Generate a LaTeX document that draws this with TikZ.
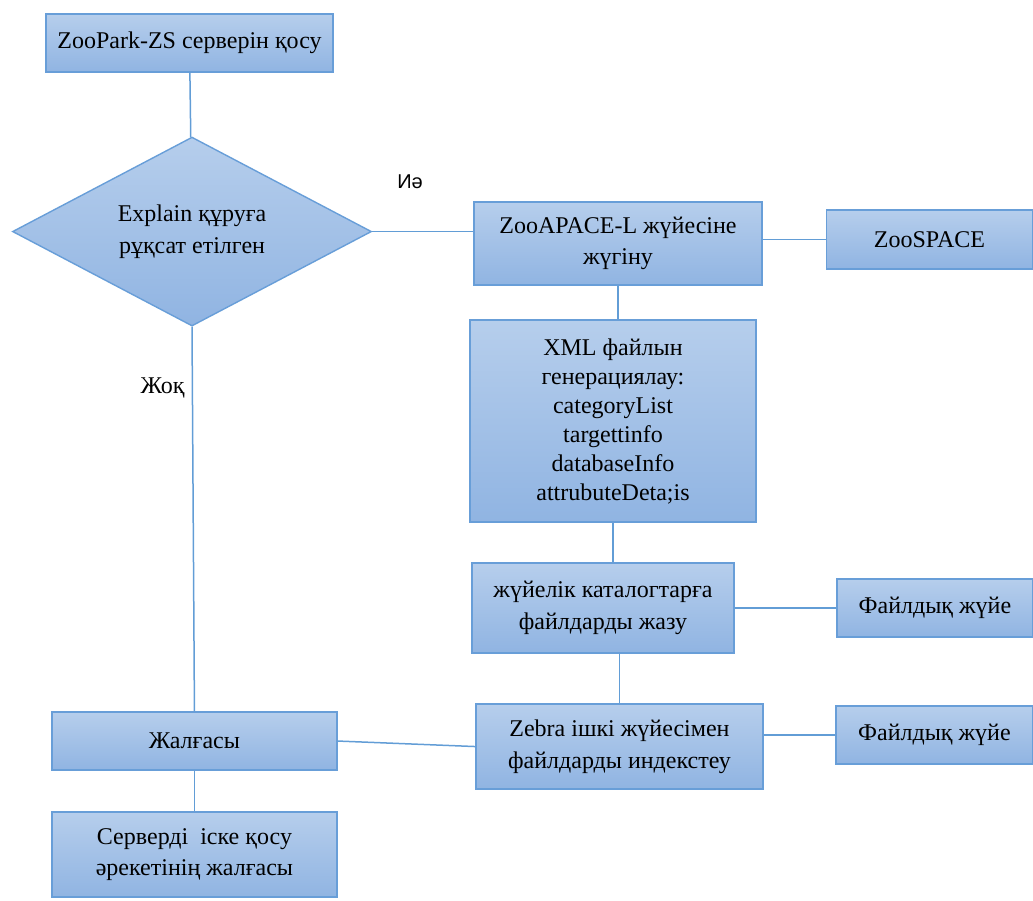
\documentclass[tikz,border=0pt]{standalone}
\usepackage{fontspec}
\setmainfont{Liberation Serif}
\newfontfamily\labelsans{Liberation Sans}
\usepackage{tikz}
\usetikzlibrary{shapes.geometric, positioning}
\definecolor{boxtop}{RGB}{182,206,236}
\definecolor{boxbottom}{RGB}{144,180,226}
\definecolor{boxline}{RGB}{104,158,216}
\definecolor{wire}{RGB}{98,157,214}
\tikzstyle{box} = [rectangle, draw=boxline, line width=0.7pt, top color=boxtop, bottom color=boxbottom, align=center, inner sep=2pt, font=\fontsize{12}{15.8}\selectfont]
\tikzstyle{decision} = [diamond, aspect=1.9, draw=boxline, line width=0.7pt, top color=boxtop, bottom color=boxbottom, align=center, inner sep=0pt, font=\fontsize{12}{15.8}\selectfont]
\tikzstyle{line} = [draw=wire, line width=0.75pt]
\tikzstyle{lbl} = [inner sep=1pt]

\begin{document}
\begin{tikzpicture}[node distance=2cm]
            \useasboundingbox (0,0) rectangle (18.153,-15.816);

            \node(start) [box, minimum width=5.044cm, minimum height=1.019cm] at (3.330,-0.756) {ZooPark-ZS серверін қосу};
            \node(check) [decision, minimum width=6.309cm, minimum height=3.321cm, node distance=3.313cm, below of=start, xshift=0.044cm] {Explain құруға\\рұқсат етілген};
            \node(apace) [box, minimum width=5.061cm, minimum height=1.459cm, node distance=7.486cm, right of=check, yshift=-0.211cm] {ZooAPACE-L жүйесіне\\жүгіну};
            \node(zoospace) [box, minimum width=3.620cm, minimum height=1.037cm, node distance=5.474cm, right of=apace, yshift=0.070cm] {ZooSPACE};
            \node(xmlgen) [box, font=\fontsize{12}{14.5}\selectfont, minimum width=5.026cm, minimum height=3.550cm, node distance=3.119cm, below of=apace, xshift=-0.088cm] {XML файлын\\генерациялау:\\categoryList\\targettinfo\\databaseInfo\\attrubuteDeta;is};
            \node(write) [box, minimum width=4.604cm, minimum height=1.582cm, node distance=3.286cm, below of=xmlgen, xshift=-0.176cm] {жүйелік каталогтарға\\файлдарды жазу};
            \node(fsys1) [box, minimum width=3.444cm, minimum height=1.019cm, node distance=5.834cm, right of=write] {Файлдық жүйе};
            \node(zebra) [box, minimum width=5.044cm, minimum height=1.494cm, node distance=2.434cm, below of=write, xshift=0.290cm] {Zebra ішкі жүйесімен\\файлдарды индекстеу};
            \node(fsys2) [box, minimum width=3.462cm, minimum height=1.019cm, node distance=5.535cm, right of=zebra, yshift=0.202cm] {Файлдық жүйе};
            \node(cont) [box, minimum width=5.008cm, minimum height=1.019cm, node distance=7.469cm, left of=zebra, yshift=0.097cm] {Жалғасы};
            \node(finish) [box, minimum width=5.008cm, minimum height=1.494cm, node distance=1.995cm, below of=cont] {Серверді~ іске қосу\\әрекетінің жалғасы};

            \node(yes) [lbl, font=\labelsans\fontsize{10}{12}\selectfont, node distance=3.831cm, right of=check, yshift=0.870cm] {Иә};
            \node(no) [lbl, font=\fontsize{12}{14}\selectfont, node distance=2.750cm, below of=check, xshift=-0.518cm] {Жоқ};

            \draw[line] (start) -- (check);
            \draw[line] (check.east) -- (check.east -| apace.west);
            \draw[line] (apace.east |- zoospace.west) -- (zoospace.west);
            \draw[line] (apace.south) -- (apace.south |- xmlgen.north);
            \draw[line] (xmlgen.south) -- (xmlgen.south |- write.north);
            \draw[line] (write.east) -- (fsys1.west);
            \draw[line] (zebra.north |- write.south) -- (zebra.north);
            \draw[line] (zebra.east |- fsys2.west) -- (fsys2.west);

            \draw[line] (check.south) -- (cont.north);
            \draw[line] (cont.east) -- (zebra.west);
            \draw[line] (cont) -- (finish);
        \end{tikzpicture}
\end{document}
